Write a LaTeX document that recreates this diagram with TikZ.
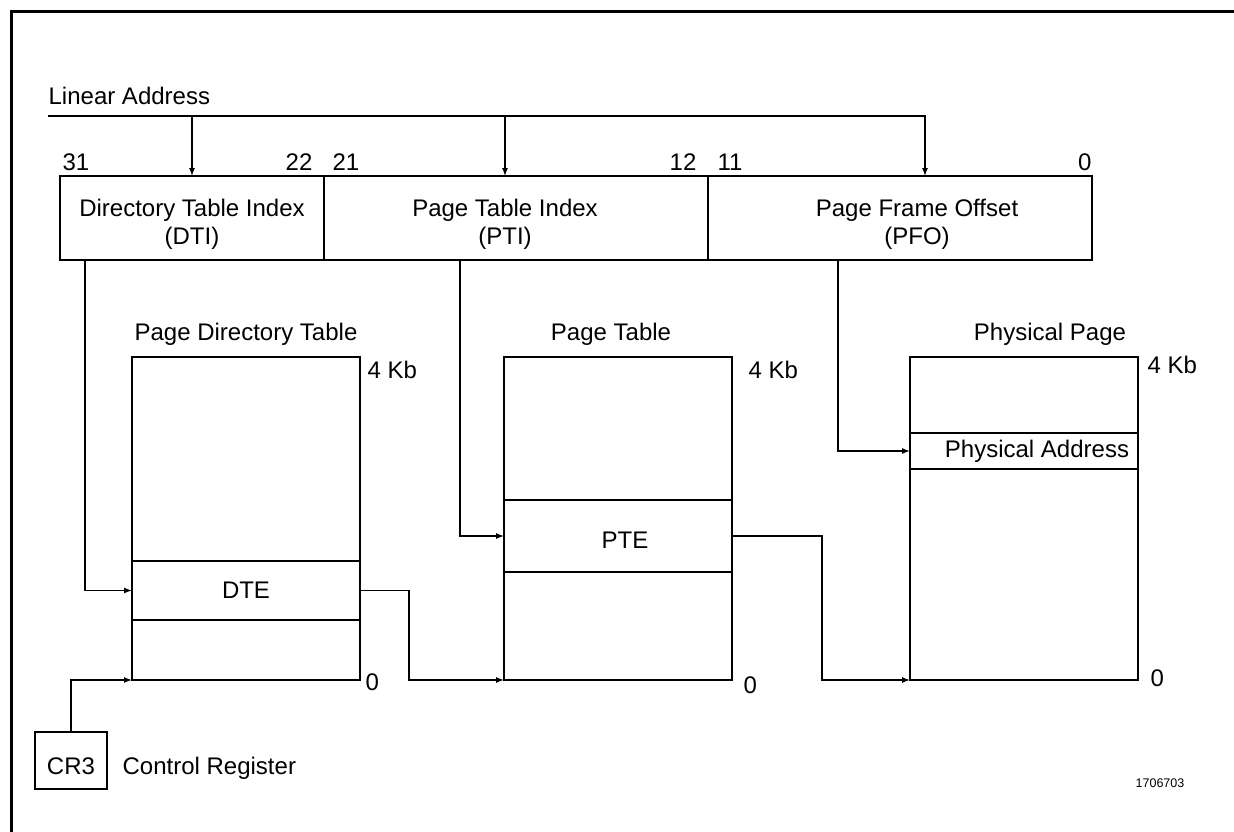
\documentclass[tikz,border=0pt]{standalone}
\usepackage{fontspec}
\setmainfont{Liberation Sans}
\usetikzlibrary{positioning,arrows.meta}
\begin{document}
\begin{tikzpicture}[x=1pt,y=-1pt,font=\fontsize{24}{28}\selectfont,line width=1.3pt,
  field/.style={draw,minimum height=84pt,inner sep=0pt,outer sep=0pt},
  ftext/.style={align=center,inner sep=0pt},
  tbl/.style={draw,minimum width=228pt,minimum height=323pt,inner sep=0pt,outer sep=0pt},
  entry/.style={draw,minimum width=228pt,inner sep=0pt,outer sep=0pt},
  lbl/.style={inner sep=0pt},
  arr/.style={-{Latex[length=8pt,width=6pt]}}]
\useasboundingbox (0,0) rectangle (1234,832);
\draw[line width=3pt] (11,832) -- (11,12) -- (1234,12);

% linear address
\node[lbl,anchor=base west] (lintitle) at (48,105) {Linear Address};
\coordinate (linbus) at (48,116);
\node[field,minimum width=264pt] (dti) at (192,218) {};
\node[field,minimum width=384pt,right=0pt of dti] (pti) {};
\node[field,minimum width=384pt,right=0pt of pti] (pfo) {};
\node[ftext,yshift=-6pt] (dtitxt) at (dti) {Directory Table Index\\(DTI)};
\node[ftext,xshift=-11pt,yshift=-6pt] (ptitxt) at (pti) {Page Table Index\\(PTI)};
\node[ftext,xshift=17pt,yshift=-6pt] (pfotxt) at (pfo) {Page Frame Offset\\(PFO)};
\node[lbl,above right=5pt and 2pt of dti.north west] (b31) {31};
\node[lbl,above left=5pt and 11pt of dti.north east] (b22) {22};
\node[lbl,above right=5pt and 8pt of pti.north west] (b21) {21};
\node[lbl,above left=5pt and 11pt of pti.north east] (b12) {12};
\node[lbl,above right=5pt and 9pt of pfo.north west] (b11) {11};
\node[lbl,above left=5pt and 0pt of pfo.north east] (b0) {0};
\coordinate (ptiin) at (505,176);
\coordinate (pfoin) at (925,176);

% tables
\node[tbl] (pdt) at (246,518.5) {};
\node[entry,minimum height=59pt] (dte) at (246,590.5) {DTE};
\node[lbl,above=11pt of pdt] (pdttitle) {Page Directory Table};
\node[lbl,below right=3pt and 7pt of pdt.north east] (pdttop) {4 Kb};
\node[lbl,right=5pt of pdt.south east,yshift=-2pt] (pdtbot) {0};

\node[tbl] (pt) at (618,518.5) {};
\node[entry,minimum height=72pt] (pte) at (618,536) {};
\node[lbl,xshift=7pt,yshift=-4pt] (ptetxt) at (pte) {PTE};
\node[lbl,above=11pt of pt,xshift=-7pt] (pttitle) {Page Table};
\node[lbl,below right=3pt and 16pt of pt.north east] (pttop) {4 Kb};
\node[lbl,right=11pt of pt.south east,yshift=-5pt] (ptbot) {0};

\node[tbl] (pp) at (1024,518.5) {};
\node[entry,minimum height=36pt] (paddr) at (1024,451) {};
\node[lbl,xshift=13pt] (paddrtxt) at (paddr) {Physical Address};
\node[lbl,above=11pt of pp,xshift=26pt] (pptitle) {Physical Page};
\node[lbl,below right=-2pt and 9pt of pp.north east] (pptop) {4 Kb};
\node[lbl,right=12pt of pp.south east,yshift=2pt] (ppbot) {0};

% control register
\node[draw,minimum width=72pt,minimum height=57pt,inner sep=0pt,outer sep=0pt] (cr3) at (71,760.5) {};
\node[lbl,yshift=-6pt] (cr3txt) at (cr3) {CR3};
\node[lbl,right=15pt of cr3,yshift=-8pt] (crname) {Control Register};
\node[lbl,font=\fontsize{12.5}{14}\selectfont] (fignum) at (1160,783) {1706703};

\coordinate (dtiout) at (85,260);
\coordinate (ptiout) at (460,260);
\coordinate (pfoout) at (838,260);
\coordinate (dtejog) at (409,680);
\coordinate (ptejog) at (822,680);
\draw[arr] (linbus) -| (pfoin);
\draw[arr] (dti.north |- linbus) -- (dti.north);
\draw[arr] (ptiin |- linbus) -- (ptiin);
\draw[arr] (dtiout) |- (dte.west);
\draw[arr] (ptiout) |- (pte.west);
\draw[arr] (pfoout) |- (paddr.west);
\draw[arr] (dte.east) -| (dtejog) -- (pt.south west);
\draw[arr] (pte.east) -| (ptejog) -- (pp.south west);
\draw[arr] (cr3.north) |- (pdt.south west);
\end{tikzpicture}
\end{document}
